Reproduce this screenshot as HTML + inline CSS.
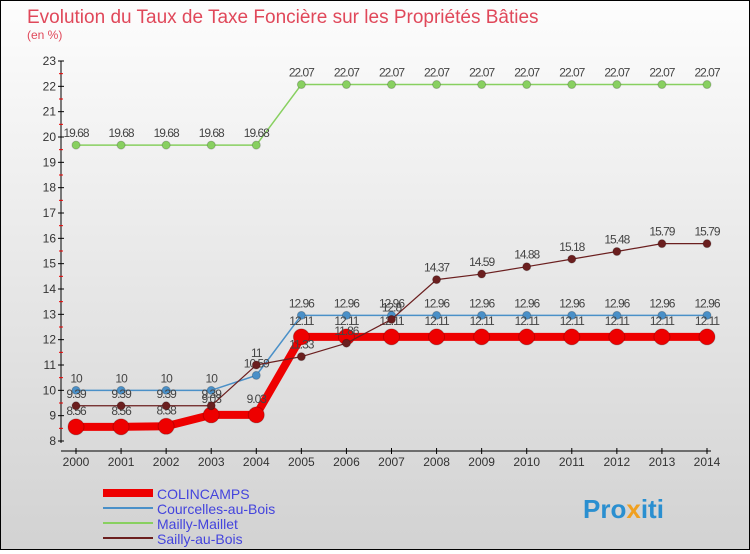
<!DOCTYPE html>
<html><head><meta charset="utf-8"><style>
body{margin:0;width:750px;height:550px;overflow:hidden;font-family:"Liberation Sans",sans-serif}
#wrap{position:relative;width:748px;height:548px;border:1px solid #000;background:linear-gradient(#fdfdfd,#d2d2d2)}
svg text{font-family:"Liberation Sans",sans-serif}
</style></head><body>
<div id="wrap">
<svg id="chart" width="748" height="548">
<text x="26" y="22" font-size="19" fill="#e0485a">Evolution du Taux de Taxe Foncière sur les Propriétés Bâties</text>
<text x="26" y="38" font-size="12" fill="#e0485a">(en %)</text>
<g id="axes"></g><g id="series"></g>
<g>
<line x1="102" y1="492" x2="152" y2="492" stroke="#e00" stroke-width="8"/>
<text x="156" y="498" font-size="14" fill="#4444dd">COLINCAMPS</text>
<line x1="102" y1="507" x2="152" y2="507" stroke="#4a90c8" stroke-width="2"/>
<text x="156" y="513" font-size="14" fill="#4444dd">Courcelles-au-Bois</text>
<line x1="102" y1="522" x2="152" y2="522" stroke="#88d060" stroke-width="2"/>
<text x="156" y="528" font-size="14" fill="#4444dd">Mailly-Maillet</text>
<line x1="102" y1="537" x2="152" y2="537" stroke="#6b1f1f" stroke-width="2"/>
<text x="156" y="543" font-size="14" fill="#4444dd">Sailly-au-Bois</text>
</g>
<text x="582" y="517" font-size="26" font-weight="bold" fill="#2a8fd0">Pro<tspan fill="#f0a020">x</tspan>iti</text>
</svg></div>
<script>
const years=[2000,2001,2002,2003,2004,2005,2006,2007,2008,2009,2010,2011,2012,2013,2014];
const yTicks=[8,9,10,11,12,13,14,15,16,17,18,19,20,21,22,23];
const colincamps=[8.56,8.56,8.58,9.03,9.03,12.11,12.11,12.11,12.11,12.11,12.11,12.11,12.11,12.11,12.11];
const courcelles=[10,10,10,10,10.59,12.96,12.96,12.96,12.96,12.96,12.96,12.96,12.96,12.96,12.96];
const mailly=[19.68,19.68,19.68,19.68,19.68,22.07,22.07,22.07,22.07,22.07,22.07,22.07,22.07,22.07,22.07];
const sailly=[9.39,9.39,9.39,9.39,11,11.33,11.86,12.8,14.37,14.59,14.88,15.18,15.48,15.79,15.79];
const NS="http://www.w3.org/2000/svg";
const X=i=>75+i*(706-75)/(years.length-1);
const Y=v=>440-(v-8)*(380/15);
function mk(t,a,p){const e=document.createElementNS(NS,t);for(const k in a)e.setAttribute(k,a[k]);p.appendChild(e);return e;}
const ax=document.getElementById('axes'),sg=document.getElementById('series');
let e=mk('line',{x1:60,y1:60,x2:60,y2:442,stroke:'#000'},ax);

e=mk('line',{x1:60,y1:450,x2:710,y2:450,stroke:'#000'},ax);

yTicks.forEach(v=>{mk('line',{x1:57,y1:Y(v),x2:63,y2:Y(v),stroke:'#000'},ax);
 if(v<23)mk('line',{x1:58,y1:Y(v+0.5),x2:62,y2:Y(v+0.5),stroke:'#e00'},ax);
 const t=mk('text',{x:55,y:Y(v)+4,'font-size':12,fill:'#333','text-anchor':'end'},ax);t.textContent=v;
 });
years.forEach((y,i)=>{mk('line',{x1:X(i),y1:447,x2:X(i),y2:453,stroke:'#000'},ax);
 const t=mk('text',{x:X(i),y:465,'font-size':12,fill:'#333','text-anchor':'middle'},ax);t.textContent=y;
 });
function series(d,c,w,r,name,lc){
 const g=mk('g',{},sg);
 const l=mk('polyline',{points:d.map((v,i)=>X(i)+','+Y(v)).join(' '),fill:'none',stroke:c,'stroke-width':w,'stroke-linejoin':'round'},g);
 
 d.forEach((v,i)=>{const p=mk('circle',{cx:X(i),cy:Y(v),r:r,fill:c,stroke:'rgba(0,0,0,0.2)'},g);
  
  const t=mk('text',{x:X(i),y:Y(v)-(r+4),'font-size':12,fill:'#444','text-anchor':'middle','letter-spacing':'-1'},g);
  t.textContent=v;});
}
series(mailly,'#88d060',1.5,4,'mailly');
series(courcelles,'#4a90c8',1.5,4,'courcelles');
series(colincamps,'#ee0000',8,8,'colincamps');
series(sailly,'#6b1f1f',1.2,4,'sailly');
</script>
</body></html>
